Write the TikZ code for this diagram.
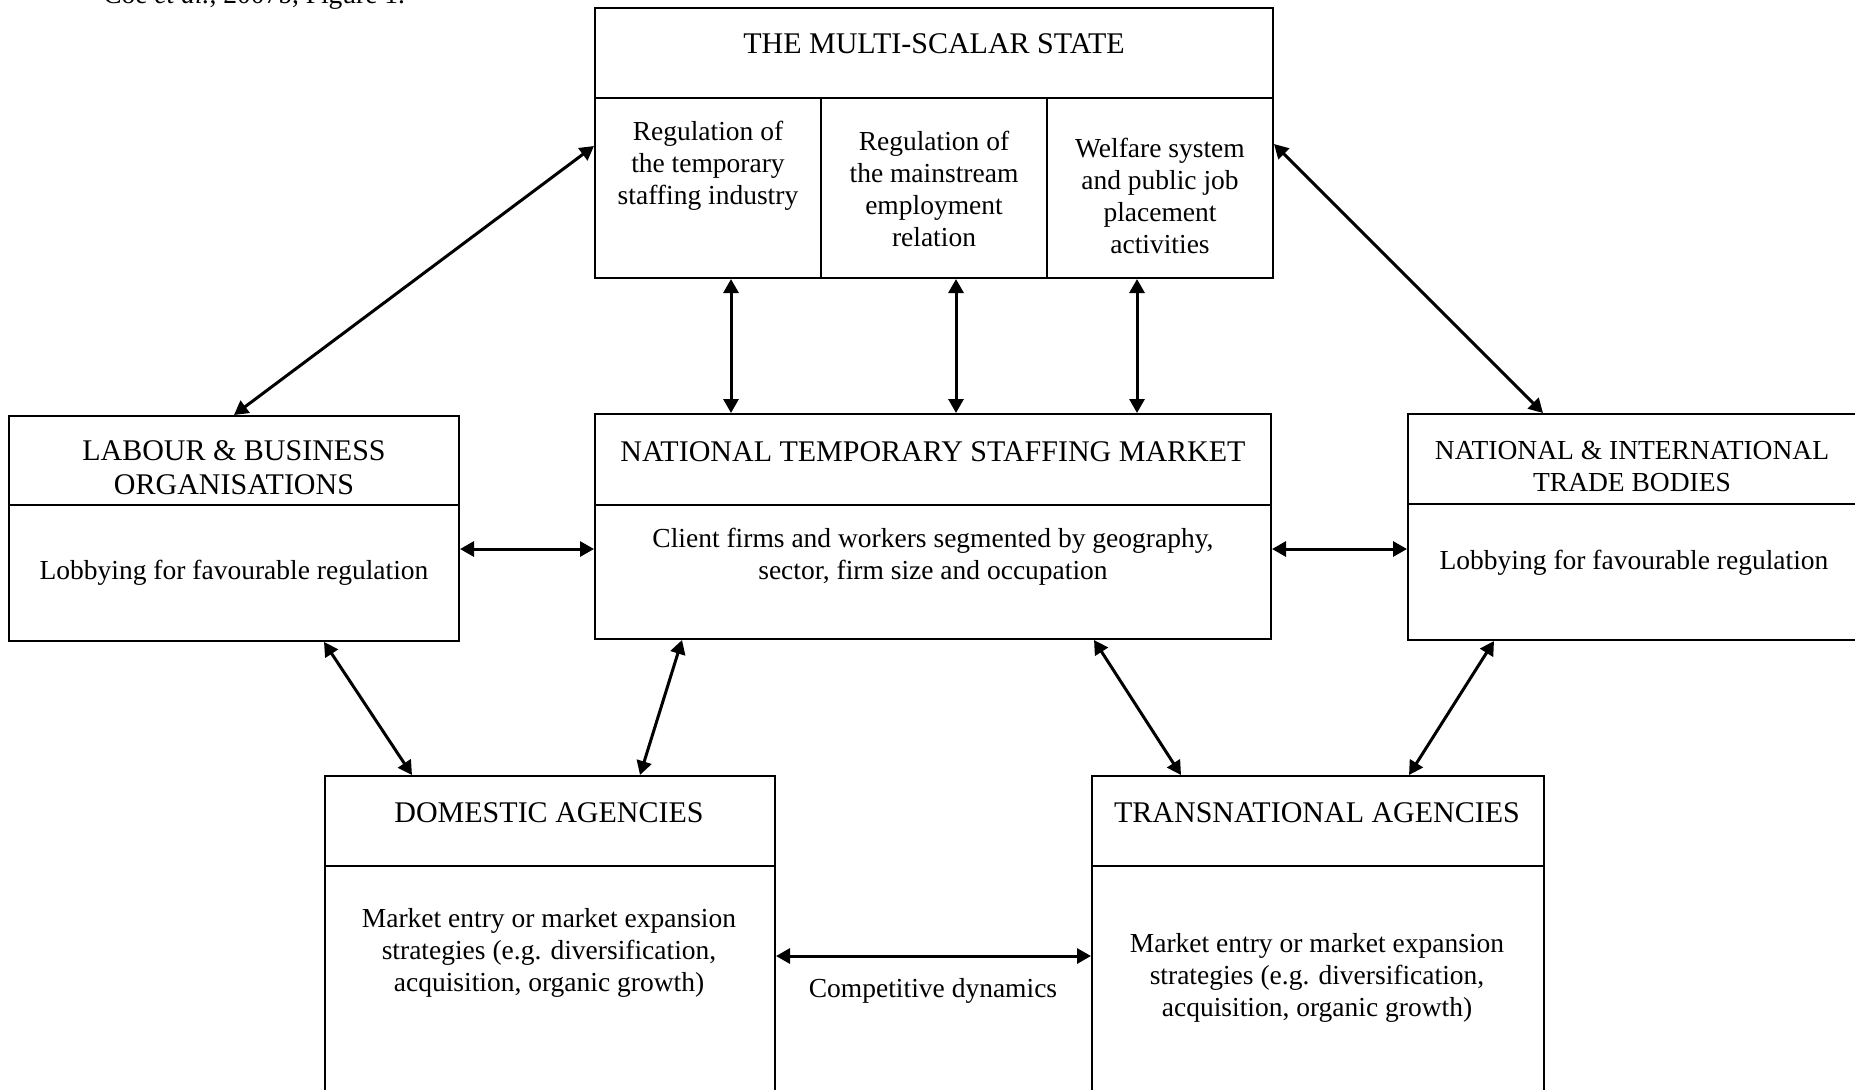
\documentclass[tikz,border=0pt]{standalone}
\usepackage{fontspec}
\setmainfont{Liberation Serif}
\usetikzlibrary{arrows.meta}

\tikzset{
  box/.style={draw, line width=1pt, inner sep=0pt},
  hd/.style={align=center, inner sep=0pt, font=\fontsize{15}{17}\selectfont},
  bd/.style={align=center, inner sep=0pt, font=\fontsize{13.75}{16}\selectfont},
  link/.style={{Triangle[length=7pt,width=7.5pt]}-{Triangle[length=7pt,width=7.5pt]}, line width=1.5pt},
}

\begin{document}
\begin{tikzpicture}[x=0.5pt, y=-0.5pt]
  \useasboundingbox (0,0) rectangle (1855,1089);

  \node[bd, anchor=base west] (src) at (103,3) {Coe \textit{et al.}, 2007b, Figure 1.};

  % state
  \node[box, minimum width=339pt, minimum height=45pt] (stateh) at (934,53) {};
  \node[box, minimum width=113pt, minimum height=90pt] (reg1) at (708,188) {};
  \node[box, minimum width=113pt, minimum height=90pt] (reg2) at (934,188) {};
  \node[box, minimum width=113pt, minimum height=90pt] (reg3) at (1160,188) {};
  \node[hd] (statet) at (934,44) {THE MULTI-SCALAR STATE};
  \node[bd] (reg1t) at (708,166) {Regulation of\\the temporary\\staffing industry};
  \node[bd] (reg2t) at (934,189) {Regulation of\\the mainstream\\employment\\relation};
  \node[bd] (reg3t) at (1160,196) {Welfare system\\and public job\\placement\\activities};

  % middle row
  \node[box, minimum width=225pt, minimum height=44.5pt] (labh) at (234,460.5) {};
  \node[box, minimum width=225pt, minimum height=68pt] (labb) at (234,573) {};
  \node[hd] (labt) at (234,468) {LABOUR \& BUSINESS\\ORGANISATIONS};
  \node[bd] (labbt) at (234,573) {Lobbying for favourable regulation};

  \node[box, minimum width=338pt, minimum height=45.5pt] (mkth) at (933,459.5) {};
  \node[box, minimum width=338pt, minimum height=67pt] (mktb) at (933,572) {};
  \node[hd] (mktt) at (933,452) {NATIONAL TEMPORARY STAFFING MARKET};
  \node[bd] (mktbt) at (933,557) {Client firms and workers segmented by geography,\\sector, firm size and occupation};

  \node[box, minimum width=231pt, minimum height=45pt] (trdh) at (1639,459) {};
  \node[box, minimum width=231pt, minimum height=68pt] (trdb) at (1639,572) {};
  \node[bd] (trdt) at (1632,466) {NATIONAL \& INTERNATIONAL\\TRADE BODIES};
  \node[bd] (trdbt) at (1634,563) {Lobbying for favourable regulation};

  % agencies
  \node[box, minimum width=225pt, minimum height=45pt] (domh) at (550,821) {};
  \node[box, minimum width=225pt, minimum height=127pt] (domb) at (550,993) {};
  \node[hd] (domt) at (549,813) {DOMESTIC AGENCIES};
  \node[bd] (dombt) at (549,953) {Market entry or market expansion\\strategies (e.g. diversification,\\acquisition, organic growth)};

  \node[box, minimum width=226pt, minimum height=45pt] (trsh) at (1318,821) {};
  \node[box, minimum width=226pt, minimum height=127pt] (trsb) at (1318,993) {};
  \node[hd] (trst) at (1317,813) {TRANSNATIONAL AGENCIES};
  \node[bd] (trsbt) at (1317,978) {Market entry or market expansion\\strategies (e.g. diversification,\\acquisition, organic growth)};

  \node[bd] (comp) at (933,991) {Competitive dynamics};

  % links
  \draw[link] ([yshift=21pt]reg1.west) -- (labh.north);
  \draw[link] ([yshift=22pt]reg3.east) -- ([xshift=68pt]trdh.north west);
  \draw[link] ([xshift=11.5pt]reg1.south) -- ([xshift=11.5pt]reg1.south |- mkth.north);
  \draw[link] ([xshift=11pt]reg2.south) -- ([xshift=11pt]reg2.south |- mkth.north);
  \draw[link] ([xshift=-11.5pt]reg3.south) -- ([xshift=-11.5pt]reg3.south |- mkth.north);
  \draw[link] ([yshift=12pt]labb.east) -- ([yshift=12pt]labb.east -| mktb.west);
  \draw[link] ([yshift=11.5pt]mktb.east) -- ([yshift=11.5pt]mktb.east -| trdb.west);
  \draw[link] ([xshift=45pt]labb.south) -- ([xshift=44pt]domh.north west);
  \draw[link] ([xshift=44pt]mktb.south west) -- ([xshift=45pt]domh.north);
  \draw[link] ([xshift=-89pt]mktb.south east) -- ([xshift=45pt]trsh.north west);
  \draw[link] ([xshift=43.5pt]trdb.south west) -- ([xshift=-68pt]trsh.north east);
  \draw[link] ([yshift=18.5pt]domb.east) -- ([yshift=18.5pt]domb.east -| trsb.west);
\end{tikzpicture}
\end{document}
